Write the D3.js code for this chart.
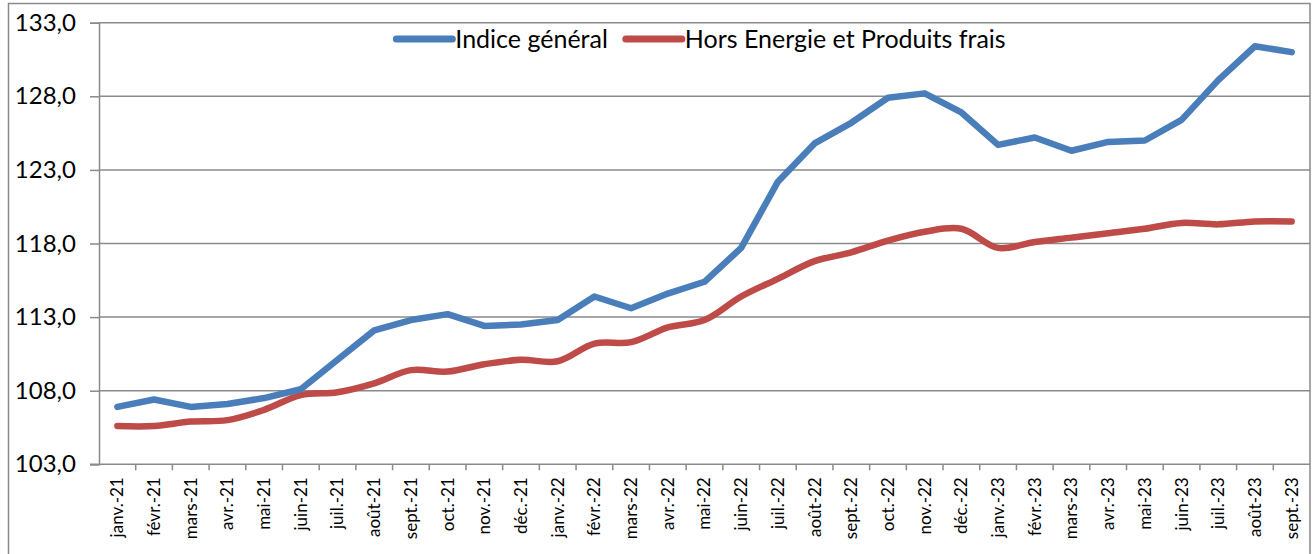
<!DOCTYPE html>
<html>
<head>
<meta charset="utf-8">
<script src="https://cdn.jsdelivr.net/npm/d3@7"></script>
<style>
  html, body { margin: 0; padding: 0; background: #fff; }
  svg { display: block; }
</style>
</head>
<body>
<div id="chart"></div>
<script>
// Months (x categories)
const months = [
  "janv.-21", "févr.-21", "mars-21", "avr.-21", "mai-21", "juin-21", "juil.-21", "août-21", "sept.-21", "oct.-21", "nov.-21", "déc.-21",
  "janv.-22", "févr.-22", "mars-22", "avr.-22", "mai-22", "juin-22", "juil.-22", "août-22", "sept.-22", "oct.-22", "nov.-22", "déc.-22",
  "janv.-23", "févr.-23", "mars-23", "avr.-23", "mai-23", "juin-23", "juil.-23", "août-23", "sept.-23"
];

// Indice général
const indiceGeneral = [
  106.9, 107.4, 106.9, 107.1, 107.5, 108.1, 110.1, 112.1, 112.8, 113.2, 112.4, 112.5,
  112.8, 114.4, 113.6, 114.6, 115.4, 117.7, 122.2, 124.8, 126.2, 127.9, 128.2, 126.9,
  124.7, 125.2, 124.3, 124.9, 125.0, 126.4, 129.1, 131.4, 131.0
];

// Hors Energie et Produits frais
const horsEnergie = [
  105.6, 105.6, 105.9, 106.0, 106.7, 107.7, 107.9, 108.5, 109.4, 109.3, 109.8, 110.1,
  110.0, 111.2, 111.3, 112.3, 112.8, 114.4, 115.6, 116.8, 117.4, 118.2, 118.8, 119.0,
  117.7, 118.1, 118.4, 118.7, 119.0, 119.4, 119.3, 119.5, 119.5
];

const yTicks = [103, 108, 113, 118, 123, 128, 133];

const seriesNames = ["Indice général", "Hors Energie et Produits frais"];

const BLUE = "#4a7ebb";
const RED = "#be4b48";
const GRID = "#8a8a8a";
const FONT = "Lato, 'Liberation Sans', sans-serif";

const width = 1316, height = 554;
const plot = { left: 99, right: 1310, top: 22.7, bottom: 464.3 };

const svg = d3.select("#chart").append("svg")
  .attr("width", width)
  .attr("height", height);

svg.append("rect").attr("width", width).attr("height", height).attr("fill", "#fff");

// Outer chart frame
svg.append("rect")
  .attr("x", 8.5).attr("y", 3.5)
  .attr("width", plot.right - 8.5).attr("height", 700)
  .attr("fill", "none")
  .attr("stroke", GRID)
  .attr("stroke-width", 1.5);

const x = d3.scaleBand().domain(months).range([plot.left, plot.right]).padding(0);
const y = d3.scaleLinear().domain([103, 133]).range([plot.bottom, plot.top]);
const cx = d => x(d) + x.bandwidth() / 2;

const fr = d3.formatLocale({ decimal: ",", thousands: " ", grouping: [3], currency: ["", " €"] });
const fmt = fr.format(".1f");

// Horizontal gridlines
svg.append("g")
  .selectAll("line")
  .data(yTicks.slice(1))
  .join("line")
  .attr("x1", plot.left).attr("x2", plot.right)
  .attr("y1", d => y(d)).attr("y2", d => y(d))
  .attr("stroke", GRID)
  .attr("stroke-width", 1.5);

// Y axis
const yAxis = svg.append("g")
  .attr("transform", `translate(${plot.left},0)`)
  .call(d3.axisLeft(y).tickValues(yTicks).tickFormat(fmt).tickSize(9).tickPadding(14));
yAxis.select(".domain").attr("stroke", GRID).attr("stroke-width", 1.5);
yAxis.selectAll(".tick line").attr("stroke", GRID).attr("stroke-width", 1.5);
yAxis.selectAll("text")
  .attr("font-family", FONT)
  .attr("font-size", "24px")
  .attr("fill", "#000");

// X axis (labels at category centers, ticks between categories)
const xAxis = svg.append("g")
  .attr("transform", `translate(0,${plot.bottom})`)
  .call(d3.axisBottom(x).tickSize(0).tickPadding(0));
xAxis.select(".domain").remove();
xAxis.selectAll("text")
  .attr("font-family", FONT)
  .attr("font-size", "17px")
  .attr("fill", "#000")
  .attr("text-anchor", "end")
  .attr("dy", "0.35em")
  .attr("transform", "translate(0,13) rotate(-90)");

svg.append("line")
  .attr("x1", plot.left - 9).attr("x2", plot.right)
  .attr("y1", plot.bottom).attr("y2", plot.bottom)
  .attr("stroke", GRID).attr("stroke-width", 1.5);

svg.append("g")
  .selectAll("line")
  .data(months.slice(1))
  .join("line")
  .attr("x1", d => x(d)).attr("x2", d => x(d))
  .attr("y1", plot.bottom).attr("y2", plot.bottom + 6)
  .attr("stroke", GRID).attr("stroke-width", 1.5);

// Lines
const lineLinear = d3.line()
  .x((d, i) => cx(months[i]))
  .y(d => y(d));

const lineSmooth = d3.line()
  .x((d, i) => cx(months[i]))
  .y(d => y(d))
  .curve(d3.curveCatmullRom.alpha(0.5));

svg.append("path")
  .datum(horsEnergie)
  .attr("d", lineSmooth)
  .attr("fill", "none")
  .attr("stroke", RED)
  .attr("stroke-width", 6.5)
  .attr("stroke-linecap", "round")
  .attr("stroke-linejoin", "round");

svg.append("path")
  .datum(indiceGeneral)
  .attr("d", lineLinear)
  .attr("fill", "none")
  .attr("stroke", BLUE)
  .attr("stroke-width", 6.5)
  .attr("stroke-linecap", "round")
  .attr("stroke-linejoin", "round");

// Legend
const legend = svg.append("g");
const legendColors = [BLUE, RED];
const swatchW = 56, gapAfterSwatch = 3, gapBetween = 18;
let lx = 0;
const items = seriesNames.map((name, i) => {
  const g = legend.append("g");
  g.append("line")
    .attr("x1", 0).attr("x2", swatchW)
    .attr("y1", 0).attr("y2", 0)
    .attr("stroke", legendColors[i])
    .attr("stroke-width", 7)
    .attr("stroke-linecap", "round");
  const t = g.append("text")
    .attr("x", swatchW + gapAfterSwatch)
    .attr("y", 0)
    .attr("dy", "0.35em")
    .attr("font-family", FONT)
    .attr("font-size", "25px")
    .attr("fill", "#000")
    .text(name);
  const w = swatchW + gapAfterSwatch + t.node().getComputedTextLength();
  g.attr("transform", `translate(${lx},0)`);
  lx += w + gapBetween;
  return g;
});
const totalW = lx - gapBetween;
legend.attr("transform", `translate(${701 - totalW / 2},39)`);
</script>
</body>
</html>
